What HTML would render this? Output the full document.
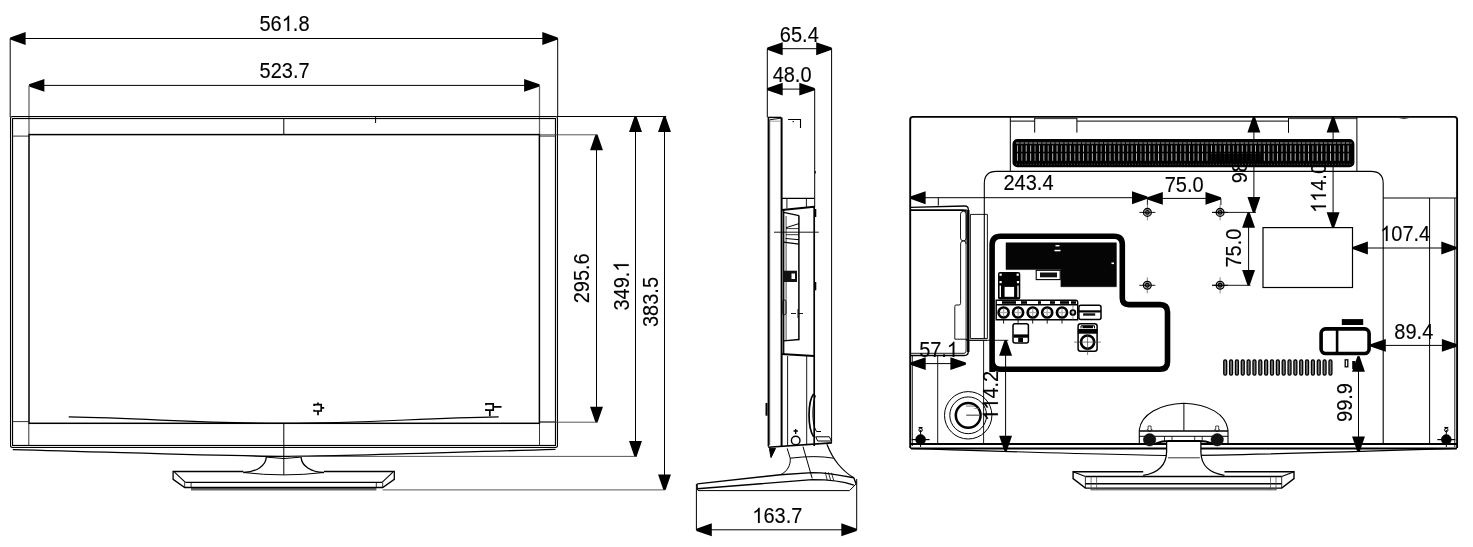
<!DOCTYPE html>
<html><head><meta charset="utf-8"><style>
html,body{margin:0;padding:0;background:#fff;}
svg{display:block;}
text{font-family:"Liberation Sans",sans-serif;fill:#000;stroke:#000;stroke-width:0.12px;}
</style></head><body>
<svg width="1473" height="547" viewBox="0 0 1473 547" style="will-change:transform">
<rect width="1473" height="547" fill="#fff"/>
<line x1="10.2" y1="38.5" x2="557.7" y2="38.5" stroke="#000" stroke-width="1.0" />
<polygon points="10.2,37.4 25.6,32.05 25.6,44.95 10.2,39.6" fill="#000"/>
<polygon points="557.7,37.4 542.3,32.05 542.3,44.95 557.7,39.6" fill="#000"/>
<g transform="translate(284.5 30.9) scale(1 1.06)"><text x="-25.02" y="0" font-size="20">5</text><text x="-13.9" y="0" font-size="20">6</text><path transform="translate(-2.78 0) scale(0.009766 -0.009766)" d="M763 0L583 0L583 1147Q518 1085 412 1023Q306 961 222 930L222 1104Q373 1175 486 1276Q599 1377 646 1472L763 1472Z" fill="#000" stroke="#000" stroke-width="12.3"/><text x="8.34" y="0" font-size="20">.</text><text x="13.9" y="0" font-size="20">8</text></g>
<line x1="29" y1="85.4" x2="539.5" y2="85.4" stroke="#000" stroke-width="1.0" />
<polygon points="29,84.3 44.4,78.95 44.4,91.85 29,86.5" fill="#000"/>
<polygon points="539.5,84.3 524.1,78.95 524.1,91.85 539.5,86.5" fill="#000"/>
<g transform="translate(284.6 78.3) scale(1 1.06)"><text x="-25.02" y="0" font-size="20">5</text><text x="-13.9" y="0" font-size="20">2</text><text x="-2.78" y="0" font-size="20">3</text><text x="8.34" y="0" font-size="20">.</text><text x="13.9" y="0" font-size="20">7</text></g>
<line x1="10.2" y1="38.5" x2="10.2" y2="117" stroke="#000" stroke-width="1.0" />
<line x1="557.7" y1="38.5" x2="557.7" y2="117" stroke="#000" stroke-width="1.0" />
<line x1="29" y1="85.4" x2="29" y2="134.4" stroke="#666" stroke-width="1.3" />
<line x1="539.5" y1="85.4" x2="539.5" y2="134.4" stroke="#666" stroke-width="1.3" />
<rect x="10.5" y="116.5" width="547" height="331" rx="2" stroke="#000" stroke-width="1.05" fill="none" />
<rect x="12.5" y="118.5" width="543" height="327" rx="0" stroke="#000" stroke-width="1.2" fill="none" />
<rect x="29" y="134.6" width="510.4" height="288.7" rx="0" stroke="#000" stroke-width="1.5" fill="none" />
<line x1="12.8" y1="136.1" x2="29" y2="136.1" stroke="#000" stroke-width="0.8" />
<line x1="12.6" y1="421.6" x2="28.8" y2="421.6" stroke="#000" stroke-width="0.8" />
<line x1="539.4" y1="136.1" x2="555.2" y2="136.1" stroke="#000" stroke-width="0.8" />
<line x1="539.4" y1="421.9" x2="555.2" y2="421.9" stroke="#000" stroke-width="0.8" />
<line x1="28.8" y1="423.3" x2="28.8" y2="446" stroke="#000" stroke-width="0.8" />
<line x1="539.5" y1="423.3" x2="539.5" y2="446" stroke="#000" stroke-width="0.8" />
<line x1="283.8" y1="118.8" x2="283.8" y2="134.4" stroke="#000" stroke-width="1.0" />
<line x1="283.8" y1="423.3" x2="283.8" y2="446" stroke="#000" stroke-width="1.0" />
<line x1="375.6" y1="117" x2="375.6" y2="123" stroke="#000" stroke-width="1.0" />
<path d="M12.8 449.6 C150 453.3 230 456.3 283.7 456.3 C337 456.3 417 453.3 555.5 449.4" stroke="#000" stroke-width="1.3" fill="none" />
<path d="M68.7 416.9 C150 418.5 200 423.2 283 423.3 C370 423.2 420 418 498.7 416.9" stroke="#000" stroke-width="1.2" fill="none" />
<path d="M314.1 405.9 L314.1 404.6 L321.2 404.6 L321.2 411 L314.1 411 L314.1 409.8 M321.2 407.8 L324.2 407.8 M318 402.5 L318 404.6 M318 411 L318 415.3" stroke="#000" stroke-width="1.7" fill="none" />
<path d="M486 405.2 L486 403.9 L493.2 403.9 L493.2 410.2 L486 410.2 L486 409 M493.2 406.9 L501.5 406.9 M489.8 410.2 L489.8 416.3" stroke="#000" stroke-width="1.7" fill="none" />
<path d="M266.3 457.1 C266 466 256 472 243.4 472.5" stroke="#000" stroke-width="1.3" fill="none" />
<path d="M301.1 457.1 C301.5 466 311 472 324 472.5" stroke="#000" stroke-width="1.3" fill="none" />
<path d="M266.3 457.1 Q283.7 460 301.1 457.1" stroke="#000" stroke-width="1.0" fill="none" />
<path d="M243.4 472.5 Q283.7 477.3 324 472.5" stroke="#000" stroke-width="1.0" fill="none" />
<line x1="283.8" y1="446" x2="283.8" y2="475" stroke="#000" stroke-width="1.0" />
<rect x="191" y="487.6" width="185.4" height="2.9" rx="0" stroke="#000" stroke-width="0" fill="#666" />
<path d="M243.4 471.5 L173.1 471.5 L173.1 479.3 L184.7 487.5 L382.7 487.5 L394.3 479.3 L394.3 471.5 L324 471.5" stroke="#000" stroke-width="1.3" fill="none" />
<line x1="174.5" y1="472.2" x2="185.4" y2="482.4" stroke="#000" stroke-width="1.1" />
<line x1="392.9" y1="472.2" x2="382" y2="482.4" stroke="#000" stroke-width="1.1" />
<line x1="185.4" y1="482.4" x2="382" y2="482.4" stroke="#000" stroke-width="1.4" />
<line x1="184.7" y1="482.4" x2="184.7" y2="487.5" stroke="#000" stroke-width="0.8" />
<line x1="191.1" y1="482.4" x2="191.1" y2="487.5" stroke="#000" stroke-width="0.8" />
<line x1="376.3" y1="482.4" x2="376.3" y2="487.5" stroke="#000" stroke-width="0.8" />
<line x1="382.7" y1="482.4" x2="382.7" y2="487.5" stroke="#000" stroke-width="0.8" />
<line x1="596.5" y1="134.8" x2="596.5" y2="422.2" stroke="#000" stroke-width="1.0" />
<polygon points="595.4,134.8 590.05,150.2 602.95,150.2 597.6,134.8" fill="#000"/>
<polygon points="595.4,422.2 590.05,406.8 602.95,406.8 597.6,422.2" fill="#000"/>
<g transform="translate(588.7 278.3) rotate(-90) scale(1 1.06)"><text x="-25.02" y="0" font-size="20">2</text><text x="-13.9" y="0" font-size="20">9</text><text x="-2.78" y="0" font-size="20">5</text><text x="8.34" y="0" font-size="20">.</text><text x="13.9" y="0" font-size="20">6</text></g>
<line x1="635.5" y1="116.5" x2="635.5" y2="456.4" stroke="#000" stroke-width="1.0" />
<polygon points="634.4,116.5 629.05,131.9 641.95,131.9 636.6,116.5" fill="#000"/>
<polygon points="634.4,456.4 629.05,441 641.95,441 636.6,456.4" fill="#000"/>
<g transform="translate(628.7 285.6) rotate(-90) scale(1 1.06)"><text x="-25.02" y="0" font-size="20">3</text><text x="-13.9" y="0" font-size="20">4</text><text x="-2.78" y="0" font-size="20">9</text><text x="8.34" y="0" font-size="20">.</text><path transform="translate(13.9 0) scale(0.009766 -0.009766)" d="M763 0L583 0L583 1147Q518 1085 412 1023Q306 961 222 930L222 1104Q373 1175 486 1276Q599 1377 646 1472L763 1472Z" fill="#000" stroke="#000" stroke-width="12.3"/></g>
<line x1="664.5" y1="116.5" x2="664.5" y2="489.9" stroke="#000" stroke-width="1.0" />
<polygon points="663.4,116.5 658.05,131.9 670.95,131.9 665.6,116.5" fill="#000"/>
<polygon points="663.4,489.9 658.05,474.5 670.95,474.5 665.6,489.9" fill="#000"/>
<g transform="translate(657.7 302) rotate(-90) scale(1 1.06)"><text x="-25.02" y="0" font-size="20">3</text><text x="-13.9" y="0" font-size="20">8</text><text x="-2.78" y="0" font-size="20">3</text><text x="8.34" y="0" font-size="20">.</text><text x="13.9" y="0" font-size="20">5</text></g>
<line x1="557" y1="116.5" x2="666.2" y2="116.5" stroke="#000" stroke-width="1.0" />
<line x1="539.5" y1="134.8" x2="597.5" y2="134.8" stroke="#444" stroke-width="0.9" />
<line x1="539.5" y1="422.2" x2="597.5" y2="422.2" stroke="#444" stroke-width="0.9" />
<line x1="290" y1="456.4" x2="637" y2="456.4" stroke="#444" stroke-width="0.9" />
<line x1="382.7" y1="489.9" x2="665.2" y2="489.9" stroke="#444" stroke-width="0.9" />
<line x1="767.3" y1="48.7" x2="831.6" y2="48.7" stroke="#000" stroke-width="1.0" />
<polygon points="767.3,47.6 782.7,42.25 782.7,55.15 767.3,49.8" fill="#000"/>
<polygon points="831.6,47.6 816.2,42.25 816.2,55.15 831.6,49.8" fill="#000"/>
<g transform="translate(799.3 41.8) scale(1 1.06)"><text x="-19.46" y="0" font-size="20">6</text><text x="-8.34" y="0" font-size="20">5</text><text x="2.78" y="0" font-size="20">.</text><text x="8.34" y="0" font-size="20">4</text></g>
<line x1="767.3" y1="89.1" x2="814.7" y2="89.1" stroke="#000" stroke-width="1.0" />
<polygon points="767.3,88 782.7,82.65 782.7,95.55 767.3,90.2" fill="#000"/>
<polygon points="814.7,88 799.3,82.65 799.3,95.55 814.7,90.2" fill="#000"/>
<g transform="translate(792.1 82) scale(1 1.06)"><text x="-19.46" y="0" font-size="20">4</text><text x="-8.34" y="0" font-size="20">8</text><text x="2.78" y="0" font-size="20">.</text><text x="8.34" y="0" font-size="20">0</text></g>
<line x1="767.3" y1="48.7" x2="767.3" y2="117.4" stroke="#000" stroke-width="1.0" />
<line x1="831.6" y1="48.7" x2="831.6" y2="443" stroke="#000" stroke-width="1.0" />
<line x1="814.7" y1="89.1" x2="814.7" y2="207" stroke="#000" stroke-width="1.0" />
<line x1="768.4" y1="117.4" x2="768.4" y2="446.5" stroke="#000" stroke-width="1.6" />
<line x1="769.7" y1="119.5" x2="769.7" y2="445" stroke="#000" stroke-width="0.7" />
<line x1="781.6" y1="117.4" x2="781.6" y2="446" stroke="#000" stroke-width="2.0" />
<path d="M767.8 117.4 L781.3 117.4" stroke="#000" stroke-width="1.4" fill="none" />
<path d="M769.7 119.8 L781 118.2" stroke="#000" stroke-width="0.9" fill="none" />
<path d="M788.1 119.5 L800.5 119.5 L800.5 128.1" stroke="#000" stroke-width="1.1" fill="none" />
<line x1="769.5" y1="121.2" x2="781" y2="121.2" stroke="#888" stroke-width="0.8" />
<rect x="792.6" y="121" width="1.2" height="1.2" rx="0" stroke="#000" stroke-width="0" fill="#000" />
<line x1="815.3" y1="171" x2="815.3" y2="173.5" stroke="#000" stroke-width="1.0" />
<path d="M781.3 198.4 L814.2 198.4" stroke="#000" stroke-width="1.2" fill="none" />
<line x1="786.9" y1="198.4" x2="786.9" y2="208.5" stroke="#000" stroke-width="0.9" />
<line x1="806.4" y1="198.4" x2="806.4" y2="207.5" stroke="#000" stroke-width="0.9" />
<path d="M782 210 L814.2 206.7" stroke="#000" stroke-width="2.0" fill="none" />
<line x1="814.2" y1="206.5" x2="814.2" y2="446" stroke="#000" stroke-width="1.7" />
<line x1="783.7" y1="210" x2="783.7" y2="354" stroke="#000" stroke-width="1.3" />
<line x1="786.1" y1="216" x2="786.1" y2="340" stroke="#000" stroke-width="0.7" />
<line x1="798.9" y1="215.6" x2="798.9" y2="340.3" stroke="#000" stroke-width="1.5" />
<path d="M783.6 212.3 L799 215.6" stroke="#000" stroke-width="1.2" fill="none" />
<path d="M786 227.7 L799 223.6" stroke="#000" stroke-width="1.0" fill="none" />
<line x1="786" y1="228.6" x2="799" y2="228.6" stroke="#000" stroke-width="0.8" />
<line x1="786" y1="234.7" x2="799" y2="234.7" stroke="#000" stroke-width="0.8" />
<path d="M799 239.7 L785.5 238.5" stroke="#000" stroke-width="1.0" fill="none" />
<path d="M783.6 242.2 L799 244.2" stroke="#000" stroke-width="1.2" fill="none" />
<line x1="774" y1="232.2" x2="818.8" y2="232.2" stroke="#000" stroke-width="0.9" />
<rect x="783.5" y="270.7" width="13.5" height="11.3" rx="0" stroke="#000" stroke-width="0" fill="#111" />
<rect x="791.5" y="273.5" width="3.5" height="5.5" rx="0" stroke="#000" stroke-width="0" fill="#fff" />
<rect x="782.9" y="300" width="3.1" height="14.7" rx="1.5" stroke="#000" stroke-width="0.9" fill="none" />
<line x1="791" y1="313.5" x2="804.8" y2="313.5" stroke="#000" stroke-width="0.9" stroke-dasharray="5 2"/>
<line x1="797.9" y1="309" x2="797.9" y2="318" stroke="#000" stroke-width="0.8" />
<path d="M783.6 340.8 L799 339.5" stroke="#000" stroke-width="1.3" fill="none" />
<path d="M781 354 L814.2 356" stroke="#000" stroke-width="2.0" fill="none" />
<line x1="787.6" y1="356" x2="787.6" y2="446" stroke="#000" stroke-width="0.9" />
<line x1="806.7" y1="356" x2="806.7" y2="444" stroke="#000" stroke-width="0.9" />
<line x1="815.5" y1="209" x2="815.5" y2="217" stroke="#000" stroke-width="1.6" />
<line x1="815.5" y1="282" x2="815.5" y2="290.3" stroke="#000" stroke-width="1.6" />
<line x1="766.5" y1="403" x2="766.5" y2="415.7" stroke="#000" stroke-width="2.0" />
<path d="M813.7 393.7 C807.5 402 807.5 428 813.7 436.8" stroke="#000" stroke-width="1.7" fill="none" />
<path d="M815.5 395.5 C811.8 405 811.8 425 816.5 431.5 L821 431.5" stroke="#000" stroke-width="1.0" fill="none" />
<path d="M815.8 436.8 L829.4 436.8 L831.5 441 L817.6 441 Z" stroke="#000" stroke-width="1.0" fill="none" />
<path d="M825.2 472 L827.2 480 M828.4 472.3 L830.6 480.4 M831.5 472.8 L833.8 480.8" stroke="#000" stroke-width="0.8" fill="none" />
<circle cx="795.7" cy="440.5" r="4.3" stroke="#000" stroke-width="1.4" fill="none"/>
<path d="M795.7 429 L795.7 434 M793.5 431 L797.9 431" stroke="#000" stroke-width="1.3" fill="none" />
<path d="M768.2 447.2 L831.8 442.9" stroke="#000" stroke-width="1.6" fill="none" />
<path d="M769.4 448.4 L775.5 448.4 L771 457.6 Z" stroke="#000" stroke-width="1.0" fill="#000" />
<path d="M787.2 448.4 L790.2 458.2 C791 465 787 472 780.4 474.7" stroke="#000" stroke-width="1.0" fill="none" />
<path d="M803 446.6 L812.2 478.4" stroke="#000" stroke-width="1.0" fill="none" />
<path d="M826.9 444.2 C830 452 834 459 838 464 C843 470 849 475 853.8 477.8" stroke="#000" stroke-width="1.2" fill="none" />
<path d="M790.2 458.2 Q815.9 455 833.6 458.2" stroke="#000" stroke-width="1.0" fill="none" />
<path d="M697.3 483.9 L780.4 474.7 L812.2 472.6 C825 472.6 840 475 853.8 477.8 L856.2 483.9" stroke="#000" stroke-width="1.4" fill="none" />
<path d="M697.3 488.8 L812.2 479.6 C830 479.6 845 482 853.8 485.1" stroke="#000" stroke-width="1.4" fill="none" />
<path d="M697.3 483.9 L697.3 488.8 L698 490.6 L849.5 490.6 L856.2 483.9" stroke="#000" stroke-width="1.0" fill="none" />
<line x1="696.4" y1="529.8" x2="856.7" y2="529.8" stroke="#000" stroke-width="1.0" />
<polygon points="696.4,528.7 711.8,523.35 711.8,536.25 696.4,530.9" fill="#000"/>
<polygon points="856.7,528.7 841.3,523.35 841.3,536.25 856.7,530.9" fill="#000"/>
<g transform="translate(777.3 522.9) scale(1 1.06)"><path transform="translate(-25.02 0) scale(0.009766 -0.009766)" d="M763 0L583 0L583 1147Q518 1085 412 1023Q306 961 222 930L222 1104Q373 1175 486 1276Q599 1377 646 1472L763 1472Z" fill="#000" stroke="#000" stroke-width="12.3"/><text x="-13.9" y="0" font-size="20">6</text><text x="-2.78" y="0" font-size="20">3</text><text x="8.34" y="0" font-size="20">.</text><text x="13.9" y="0" font-size="20">7</text></g>
<line x1="696.4" y1="483.9" x2="696.4" y2="529.8" stroke="#000" stroke-width="1.0" />
<line x1="856.7" y1="479" x2="856.7" y2="529.8" stroke="#000" stroke-width="1.0" />
<path d="M910.2 448 L910.2 119.6 Q910.2 116.9 912.9 116.9 L1454.4 116.9 Q1457.1 116.9 1457.1 119.6 L1457.1 448" stroke="#000" stroke-width="1.9" fill="none" />
<path d="M1399 117.6 Q1404 119.8 1409 117.6" stroke="#444" stroke-width="1.0" fill="none" />
<line x1="1454.8" y1="198" x2="1454.8" y2="447" stroke="#000" stroke-width="0.9" />
<line x1="912.3" y1="356" x2="912.3" y2="446" stroke="#000" stroke-width="0.9" />
<path d="M1010.3 117 L1010.3 171.3" stroke="#000" stroke-width="1.0" fill="none" />
<path d="M1356.9 117 L1356.9 171.3" stroke="#000" stroke-width="1.0" fill="none" />
<path d="M1010.3 121.1 L1034.7 121.1 M1076.9 121.1 L1288.5 121.1" stroke="#000" stroke-width="1.0" fill="none" />
<path d="M1034.7 118.6 L1076.9 118.6 M1288.5 118.6 L1356.9 118.6" stroke="#000" stroke-width="0.8" fill="none" />
<line x1="1034.7" y1="118" x2="1034.7" y2="132.6" stroke="#000" stroke-width="1.0" />
<line x1="1076.9" y1="118" x2="1076.9" y2="132.6" stroke="#000" stroke-width="1.0" />
<line x1="1288.5" y1="118" x2="1288.5" y2="132.8" stroke="#000" stroke-width="1.0" />
<path d="M984.3 338.5 L984.3 183.5 Q984.3 171.4 996.4 171.4 L1371 171.4 Q1383.2 171.4 1383.2 183.5 L1383.2 444" stroke="#000" stroke-width="1.1" fill="none" />
<line x1="1383.2" y1="198" x2="1457" y2="198" stroke="#000" stroke-width="1.0" />
<line x1="1429.6" y1="198" x2="1429.6" y2="444" stroke="#000" stroke-width="1.0" />
<path d="M910.2 207.4 L964.5 206 Q968.3 205.9 968.3 209.5 L968.3 351.5 Q968.3 355.5 964.3 355.5 L910.2 355.5" stroke="#000" stroke-width="1.3" fill="none" />
<path d="M910.2 210.2 L963.5 210.2 Q965.5 210.2 966.2 211.5" stroke="#000" stroke-width="1.8" fill="none" />
<path d="M966.1 209 L966.1 351 Q966.1 353.3 964 353.3 L910.2 353.3" stroke="#000" stroke-width="0.9" fill="none" />
<rect x="960.5" y="211.4" width="5.8" height="29.4" rx="2.8" stroke="#000" stroke-width="0.9" fill="none" />
<path d="M966.1 244 Q966.1 240.9 963.35 240.9 Q960.6 240.9 960.6 244 L960.6 303.6 Q960.6 305 959 305 L956 305 Q954.8 305 954.8 306.5 L954.8 339.2 L966.1 339.2" stroke="#000" stroke-width="0.9" fill="none" />
<line x1="968.3" y1="210" x2="968.3" y2="352" stroke="#000" stroke-width="2.4" />
<path d="M970.4 214.4 L987.4 214.4 L987.4 338.5 L970.4 338.5 Z" stroke="#000" stroke-width="0.9" fill="none" />
<path d="M966.5 339 L966.5 340.3 L987 340.3" stroke="#000" stroke-width="0.9" fill="none" />
<line x1="938.3" y1="197.8" x2="938.3" y2="205.6" stroke="#000" stroke-width="1.0" />
<line x1="937.7" y1="355" x2="937.7" y2="444" stroke="#000" stroke-width="0.9" />
<line x1="983.6" y1="340.3" x2="983.6" y2="444" stroke="#000" stroke-width="0.9" />
<path d="M992.1 372 L992.1 245 Q992.1 236.3 1000.8 236.3 L1114 236.3 Q1122.3 236.3 1122.3 244.6 L1122.3 298 Q1122.3 304.6 1128.9 304.6 L1160 304.6 Q1167.5 304.6 1167.5 312 L1167.5 362 Q1167.5 369.2 1160 369.2 L1000 369.2 Q992.1 369.2 992.1 361" stroke="#000" stroke-width="5.6" fill="none" />
<path d="M1006 242.8 L1116.4 242.8 L1116.4 286.7 L1060.9 286.7 L1060.9 269.6 L1006 269.6 Z" stroke="#000" stroke-width="0.5" fill="#050505" />
<rect x="1036.2" y="270.3" width="24" height="9.3" rx="0" stroke="#000" stroke-width="1.1" fill="none" />
<rect x="1040" y="272.5" width="17" height="4.8" rx="0" stroke="#000" stroke-width="0" fill="#111" />
<rect x="1055.5" y="245" width="4" height="1.4" rx="0" stroke="#000" stroke-width="0" fill="#fff" />
<rect x="1054.5" y="249.8" width="6" height="1.5" rx="0" stroke="#000" stroke-width="0" fill="#fff" />
<rect x="1111.5" y="262.5" width="2.5" height="1.6" rx="0" stroke="#000" stroke-width="0" fill="#fff" />
<rect x="998" y="271.9" width="22.3" height="27.5" rx="2" stroke="#000" stroke-width="0" fill="#000" />
<rect x="1004.6" y="286.9" width="9.5" height="9.9" rx="0" stroke="#000" stroke-width="0" fill="#fff" />
<rect x="999.6" y="285.6" width="1.4" height="11.5" rx="0" stroke="#000" stroke-width="0" fill="#fff" />
<rect x="1017.3" y="285.6" width="1.4" height="11.5" rx="0" stroke="#000" stroke-width="0" fill="#fff" />
<rect x="999.5" y="273.6" width="2.2" height="2.2" rx="0" stroke="#000" stroke-width="0" fill="#fff" />
<rect x="1016.6" y="273.6" width="2.2" height="2.2" rx="0" stroke="#000" stroke-width="0" fill="#fff" />
<rect x="999.5" y="281" width="2.2" height="2.2" rx="0" stroke="#000" stroke-width="0" fill="#fff" />
<rect x="1016.9" y="281" width="2.2" height="2.2" rx="0" stroke="#000" stroke-width="0" fill="#fff" />
<path d="M996.2 319.8 L996.2 300.3 L1075.7 300.3 Q1077.7 300.3 1077.7 302.3 L1077.7 319.8 Z" stroke="#000" stroke-width="1.4" fill="none" />
<line x1="996.2" y1="304.7" x2="1077.7" y2="304.7" stroke="#000" stroke-width="1.4" />
<rect x="1002" y="301.2" width="14" height="2.6" rx="0" stroke="#000" stroke-width="0" fill="#000" />
<rect x="1021" y="301.2" width="6" height="2.6" rx="0" stroke="#000" stroke-width="0" fill="#000" />
<rect x="1038" y="301.2" width="3" height="2.6" rx="0" stroke="#000" stroke-width="0" fill="#000" />
<rect x="1050" y="301.2" width="5" height="2.6" rx="0" stroke="#000" stroke-width="0" fill="#000" />
<rect x="1060" y="301.2" width="9" height="2.6" rx="0" stroke="#000" stroke-width="0" fill="#000" />
<rect x="1071" y="301.2" width="5" height="2.6" rx="0" stroke="#000" stroke-width="0" fill="#000" />
<circle cx="1003.6" cy="312.5" r="5" stroke="#000" stroke-width="2.7" fill="none"/>
<rect x="1003" y="308.6" width="1.2" height="7.8" rx="0" stroke="#000" stroke-width="0" fill="#aaa" />
<rect x="999.7" y="311.9" width="7.8" height="1.2" rx="0" stroke="#000" stroke-width="0" fill="#aaa" />
<line x1="1003.6" y1="319.8" x2="1003.6" y2="323.6" stroke="#000" stroke-width="0.9" />
<circle cx="1018.1" cy="312.5" r="5" stroke="#000" stroke-width="2.7" fill="none"/>
<rect x="1017.5" y="308.6" width="1.2" height="7.8" rx="0" stroke="#000" stroke-width="0" fill="#aaa" />
<rect x="1014.2" y="311.9" width="7.8" height="1.2" rx="0" stroke="#000" stroke-width="0" fill="#aaa" />
<line x1="1018.1" y1="319.8" x2="1018.1" y2="323.6" stroke="#000" stroke-width="0.9" />
<circle cx="1032.7" cy="312.5" r="5" stroke="#000" stroke-width="2.7" fill="none"/>
<rect x="1032.1" y="308.6" width="1.2" height="7.8" rx="0" stroke="#000" stroke-width="0" fill="#aaa" />
<rect x="1028.8" y="311.9" width="7.8" height="1.2" rx="0" stroke="#000" stroke-width="0" fill="#aaa" />
<line x1="1032.7" y1="319.8" x2="1032.7" y2="323.6" stroke="#000" stroke-width="0.9" />
<circle cx="1047.2" cy="312.5" r="5" stroke="#000" stroke-width="2.7" fill="none"/>
<rect x="1046.6" y="308.6" width="1.2" height="7.8" rx="0" stroke="#000" stroke-width="0" fill="#aaa" />
<rect x="1043.3" y="311.9" width="7.8" height="1.2" rx="0" stroke="#000" stroke-width="0" fill="#aaa" />
<line x1="1047.2" y1="319.8" x2="1047.2" y2="323.6" stroke="#000" stroke-width="0.9" />
<circle cx="1062" cy="312.5" r="5" stroke="#000" stroke-width="2.7" fill="none"/>
<rect x="1061.4" y="308.6" width="1.2" height="7.8" rx="0" stroke="#000" stroke-width="0" fill="#aaa" />
<rect x="1058.1" y="311.9" width="7.8" height="1.2" rx="0" stroke="#000" stroke-width="0" fill="#aaa" />
<line x1="1062" y1="319.8" x2="1062" y2="323.6" stroke="#000" stroke-width="0.9" />
<circle cx="1072.9" cy="312.5" r="2.4" stroke="#000" stroke-width="1.9" fill="none"/>
<line x1="1072.9" y1="305" x2="1072.9" y2="319.8" stroke="#555" stroke-width="0.6" />
<rect x="1078.9" y="305.2" width="22.1" height="14.4" rx="2" stroke="#000" stroke-width="1.5" fill="none" />
<rect x="1078.6" y="310.3" width="22.5" height="2.2" rx="0" stroke="#000" stroke-width="0" fill="#000" />
<rect x="1083.1" y="313.3" width="12.1" height="2.4" rx="0" stroke="#000" stroke-width="0" fill="#111" />
<rect x="1013" y="323.8" width="15.4" height="19.1" rx="2" stroke="#000" stroke-width="1.5" fill="none" />
<rect x="1013.5" y="334.4" width="14.6" height="3.3" rx="0" stroke="#000" stroke-width="0" fill="#000" />
<rect x="1018.2" y="337.5" width="4.8" height="4.6" rx="0" stroke="#000" stroke-width="0" fill="#000" />
<rect x="1078.1" y="323.8" width="19" height="27.5" rx="2.5" stroke="#000" stroke-width="1.5" fill="none" />
<path d="M1081 328.4 L1081 325.8 L1094.5 325.8 L1094.5 328.4" stroke="#000" stroke-width="1.0" fill="none" />
<rect x="1082.5" y="325.6" width="10.5" height="2.6" rx="0" stroke="#000" stroke-width="0" fill="#000" />
<rect x="1077.8" y="329" width="19.6" height="4.7" rx="0" stroke="#000" stroke-width="0" fill="#000" />
<circle cx="1087.6" cy="342.1" r="6.6" stroke="#000" stroke-width="2.6" fill="none"/>
<line x1="1074.1" y1="342.1" x2="1100.8" y2="342.1" stroke="#444" stroke-width="0.7" />
<line x1="1087.6" y1="335" x2="1087.6" y2="354.9" stroke="#444" stroke-width="0.7" />
<line x1="970" y1="340.3" x2="1008.3" y2="340.3" stroke="#000" stroke-width="0.9" />
<line x1="1005.6" y1="340.3" x2="1005.6" y2="451.2" stroke="#000" stroke-width="1.0" />
<polygon points="1004.5,340.3 999.15,355.7 1012.05,355.7 1006.7,340.3" fill="#000"/>
<polygon points="1004.5,451.2 999.15,435.8 1012.05,435.8 1006.7,451.2" fill="#000"/>
<g transform="translate(997.9 395.8) rotate(-90) scale(1 1.06)"><path transform="translate(-25.02 0) scale(0.009766 -0.009766)" d="M763 0L583 0L583 1147Q518 1085 412 1023Q306 961 222 930L222 1104Q373 1175 486 1276Q599 1377 646 1472L763 1472Z" fill="#000" stroke="#000" stroke-width="12.3"/><path transform="translate(-13.9 0) scale(0.009766 -0.009766)" d="M763 0L583 0L583 1147Q518 1085 412 1023Q306 961 222 930L222 1104Q373 1175 486 1276Q599 1377 646 1472L763 1472Z" fill="#000" stroke="#000" stroke-width="12.3"/><text x="-2.78" y="0" font-size="20">4</text><text x="8.34" y="0" font-size="20">.</text><text x="13.9" y="0" font-size="20">2</text></g>
<line x1="910.3" y1="363.6" x2="965.8" y2="363.6" stroke="#000" stroke-width="1.0" />
<polygon points="910.3,362.5 925.7,357.15 925.7,370.05 910.3,364.7" fill="#000"/>
<polygon points="965.8,362.5 950.4,357.15 950.4,370.05 965.8,364.7" fill="#000"/>
<g transform="translate(938.6 356.9) scale(1 1.06)"><text x="-19.46" y="0" font-size="20">5</text><text x="-8.34" y="0" font-size="20">7</text><text x="2.78" y="0" font-size="20">.</text><path transform="translate(8.34 0) scale(0.009766 -0.009766)" d="M763 0L583 0L583 1147Q518 1085 412 1023Q306 961 222 930L222 1104Q373 1175 486 1276Q599 1377 646 1472L763 1472Z" fill="#000" stroke="#000" stroke-width="12.3"/></g>
<circle cx="968.2" cy="415.3" r="23.7" stroke="#000" stroke-width="1.0" fill="none"/>
<circle cx="968.2" cy="415.3" r="18.4" stroke="#000" stroke-width="1.0" fill="none"/>
<circle cx="968.2" cy="415.3" r="12.4" stroke="#000" stroke-width="2.5" fill="none"/>
<rect x="966.2" y="414.5" width="13.1" height="1.5" rx="0" stroke="#000" stroke-width="0" fill="#777" />
<line x1="966" y1="406.1" x2="975" y2="406.1" stroke="#555" stroke-width="0.8" />
<line x1="974" y1="408.5" x2="979" y2="408.5" stroke="#777" stroke-width="0.7" />
<line x1="910.2" y1="197.7" x2="1147.4" y2="197.7" stroke="#000" stroke-width="1.0" />
<polygon points="910.2,196.6 925.6,191.25 925.6,204.15 910.2,198.8" fill="#000"/>
<polygon points="1147.4,196.6 1132,191.25 1132,204.15 1147.4,198.8" fill="#000"/>
<g transform="translate(1028.5 190.1) scale(1 1.06)"><text x="-25.02" y="0" font-size="20">2</text><text x="-13.9" y="0" font-size="20">4</text><text x="-2.78" y="0" font-size="20">3</text><text x="8.34" y="0" font-size="20">.</text><text x="13.9" y="0" font-size="20">4</text></g>
<line x1="1147.4" y1="197.7" x2="1147.4" y2="205" stroke="#000" stroke-width="0.9" />
<line x1="1147.4" y1="198.4" x2="1220.9" y2="198.4" stroke="#000" stroke-width="1.0" />
<polygon points="1147.4,197.3 1162.8,191.95 1162.8,204.85 1147.4,199.5" fill="#000"/>
<polygon points="1220.9,197.3 1205.5,191.95 1205.5,204.85 1220.9,199.5" fill="#000"/>
<g transform="translate(1184.2 192.1) scale(1 1.06)"><text x="-19.46" y="0" font-size="20">7</text><text x="-8.34" y="0" font-size="20">5</text><text x="2.78" y="0" font-size="20">.</text><text x="8.34" y="0" font-size="20">0</text></g>
<line x1="1220.9" y1="198.4" x2="1220.9" y2="205" stroke="#000" stroke-width="0.9" />
<line x1="1147.4" y1="204.4" x2="1147.4" y2="220.4" stroke="#777" stroke-width="0.9" />
<circle cx="1147.4" cy="212.4" r="2.9" stroke="#999" stroke-width="0.9" fill="none"/>
<circle cx="1147.4" cy="212.4" r="3.9" stroke="#000" stroke-width="1.3" fill="none"/>
<circle cx="1147.4" cy="212.4" r="1.8" stroke="#000" stroke-width="1.3" fill="none"/>
<line x1="1139.4" y1="212.4" x2="1155.4" y2="212.4" stroke="#000" stroke-width="0.9" />
<line x1="1220.1" y1="204.4" x2="1220.1" y2="220.4" stroke="#777" stroke-width="0.9" />
<circle cx="1220.1" cy="212.4" r="2.9" stroke="#999" stroke-width="0.9" fill="none"/>
<circle cx="1220.1" cy="212.4" r="3.9" stroke="#000" stroke-width="1.3" fill="none"/>
<circle cx="1220.1" cy="212.4" r="1.8" stroke="#000" stroke-width="1.3" fill="none"/>
<line x1="1212.1" y1="212.4" x2="1228.1" y2="212.4" stroke="#000" stroke-width="0.9" />
<line x1="1147.3" y1="277.3" x2="1147.3" y2="293.3" stroke="#777" stroke-width="0.9" />
<circle cx="1147.3" cy="285.3" r="2.9" stroke="#999" stroke-width="0.9" fill="none"/>
<circle cx="1147.3" cy="285.3" r="3.9" stroke="#000" stroke-width="1.3" fill="none"/>
<circle cx="1147.3" cy="285.3" r="1.8" stroke="#000" stroke-width="1.3" fill="none"/>
<line x1="1139.3" y1="285.3" x2="1155.3" y2="285.3" stroke="#000" stroke-width="0.9" />
<line x1="1220.1" y1="277.3" x2="1220.1" y2="293.3" stroke="#777" stroke-width="0.9" />
<circle cx="1220.1" cy="285.3" r="2.9" stroke="#999" stroke-width="0.9" fill="none"/>
<circle cx="1220.1" cy="285.3" r="3.9" stroke="#000" stroke-width="1.3" fill="none"/>
<circle cx="1220.1" cy="285.3" r="1.8" stroke="#000" stroke-width="1.3" fill="none"/>
<line x1="1212.1" y1="285.3" x2="1228.1" y2="285.3" stroke="#000" stroke-width="0.9" />
<line x1="1212" y1="212.4" x2="1256" y2="212.4" stroke="#000" stroke-width="0.9" />
<line x1="1212" y1="285.3" x2="1250.5" y2="285.3" stroke="#000" stroke-width="0.9" />
<line x1="1253.9" y1="117" x2="1253.9" y2="212.4" stroke="#000" stroke-width="1.0" />
<polygon points="1252.8,117 1247.45,132.4 1260.35,132.4 1255,117" fill="#000"/>
<polygon points="1252.8,212.4 1247.45,197 1260.35,197 1255,212.4" fill="#000"/>
<g transform="translate(1247.4 163.9) rotate(-90) scale(1 1.06)"><text x="-19.46" y="0" font-size="20">9</text><text x="-8.34" y="0" font-size="20">8</text><text x="2.78" y="0" font-size="20">.</text><text x="8.34" y="0" font-size="20">0</text></g>
<line x1="1248.6" y1="212.4" x2="1248.6" y2="285.3" stroke="#000" stroke-width="1.0" />
<polygon points="1247.5,212.4 1242.15,227.8 1255.05,227.8 1249.7,212.4" fill="#000"/>
<polygon points="1247.5,285.3 1242.15,269.9 1255.05,269.9 1249.7,285.3" fill="#000"/>
<g transform="translate(1241.4 248.1) rotate(-90) scale(1 1.06)"><text x="-19.46" y="0" font-size="20">7</text><text x="-8.34" y="0" font-size="20">5</text><text x="2.78" y="0" font-size="20">.</text><text x="8.34" y="0" font-size="20">0</text></g>
<line x1="1333.1" y1="117" x2="1333.1" y2="227.6" stroke="#000" stroke-width="1.0" />
<polygon points="1332,117 1326.65,132.4 1339.55,132.4 1334.2,117" fill="#000"/>
<polygon points="1332,227.6 1326.65,212.2 1339.55,212.2 1334.2,227.6" fill="#000"/>
<g transform="translate(1326 188) rotate(-90) scale(1 1.06)"><path transform="translate(-25.02 0) scale(0.009766 -0.009766)" d="M763 0L583 0L583 1147Q518 1085 412 1023Q306 961 222 930L222 1104Q373 1175 486 1276Q599 1377 646 1472L763 1472Z" fill="#000" stroke="#000" stroke-width="12.3"/><path transform="translate(-13.9 0) scale(0.009766 -0.009766)" d="M763 0L583 0L583 1147Q518 1085 412 1023Q306 961 222 930L222 1104Q373 1175 486 1276Q599 1377 646 1472L763 1472Z" fill="#000" stroke="#000" stroke-width="12.3"/><text x="-2.78" y="0" font-size="20">4</text><text x="8.34" y="0" font-size="20">.</text><text x="13.9" y="0" font-size="20">0</text></g>
<rect x="1263" y="227.6" width="89.5" height="59.9" rx="0" stroke="#000" stroke-width="1.2" fill="none" />
<line x1="1352.5" y1="248" x2="1456.7" y2="248" stroke="#000" stroke-width="1.0" />
<polygon points="1352.5,246.9 1367.9,241.55 1367.9,254.45 1352.5,249.1" fill="#000"/>
<polygon points="1456.7,246.9 1441.3,241.55 1441.3,254.45 1456.7,249.1" fill="#000"/>
<g transform="translate(1405.2 240.9) scale(1 1.06)"><path transform="translate(-25.02 0) scale(0.009766 -0.009766)" d="M763 0L583 0L583 1147Q518 1085 412 1023Q306 961 222 930L222 1104Q373 1175 486 1276Q599 1377 646 1472L763 1472Z" fill="#000" stroke="#000" stroke-width="12.3"/><text x="-13.9" y="0" font-size="20">0</text><text x="-2.78" y="0" font-size="20">7</text><text x="8.34" y="0" font-size="20">.</text><text x="13.9" y="0" font-size="20">4</text></g>
<rect x="1321.1" y="328.9" width="48" height="24.6" rx="4.5" stroke="#000" stroke-width="3.6" fill="none" />
<line x1="1337.1" y1="330" x2="1337.1" y2="353" stroke="#000" stroke-width="2.6" />
<rect x="1341.8" y="319.1" width="21.4" height="5.9" rx="0" stroke="#000" stroke-width="0" fill="#000" />
<rect x="1345.2" y="359.8" width="2.6" height="7" rx="0" stroke="#000" stroke-width="1.3" fill="none" />
<rect x="1352.2" y="361" width="3.2" height="8" rx="0" stroke="#000" stroke-width="0" fill="#000" />
<line x1="1370.4" y1="345.4" x2="1457.3" y2="345.4" stroke="#000" stroke-width="1.0" />
<polygon points="1370.4,344.3 1385.8,338.95 1385.8,351.85 1370.4,346.5" fill="#000"/>
<polygon points="1457.3,344.3 1441.9,338.95 1441.9,351.85 1457.3,346.5" fill="#000"/>
<g transform="translate(1413.8 339) scale(1 1.06)"><text x="-19.46" y="0" font-size="20">8</text><text x="-8.34" y="0" font-size="20">9</text><text x="2.78" y="0" font-size="20">.</text><text x="8.34" y="0" font-size="20">4</text></g>
<line x1="1358.5" y1="356.3" x2="1358.5" y2="452" stroke="#000" stroke-width="1.0" />
<polygon points="1357.4,356.3 1352.05,371.7 1364.95,371.7 1359.6,356.3" fill="#000"/>
<polygon points="1357.4,452 1352.05,436.6 1364.95,436.6 1359.6,452" fill="#000"/>
<g transform="translate(1351.8 402.5) rotate(-90) scale(1 1.06)"><text x="-19.46" y="0" font-size="20">9</text><text x="-8.34" y="0" font-size="20">9</text><text x="2.78" y="0" font-size="20">.</text><text x="8.34" y="0" font-size="20">9</text></g>
<rect x="1223.75" y="359.85" width="2.94" height="15.3" rx="1.4" stroke="#000" stroke-width="1.3" fill="#777" />
<rect x="1229.6" y="359.85" width="2.94" height="15.3" rx="1.4" stroke="#000" stroke-width="1.3" fill="#777" />
<rect x="1235.44" y="359.85" width="2.94" height="15.3" rx="1.4" stroke="#000" stroke-width="1.3" fill="#777" />
<rect x="1241.29" y="359.85" width="2.94" height="15.3" rx="1.4" stroke="#000" stroke-width="1.3" fill="#777" />
<rect x="1247.13" y="359.85" width="2.94" height="15.3" rx="1.4" stroke="#000" stroke-width="1.3" fill="#777" />
<rect x="1252.98" y="359.85" width="2.94" height="15.3" rx="1.4" stroke="#000" stroke-width="1.3" fill="#777" />
<rect x="1258.83" y="359.85" width="2.94" height="15.3" rx="1.4" stroke="#000" stroke-width="1.3" fill="#777" />
<rect x="1264.67" y="359.85" width="2.94" height="15.3" rx="1.4" stroke="#000" stroke-width="1.3" fill="#777" />
<rect x="1270.52" y="359.85" width="2.94" height="15.3" rx="1.4" stroke="#000" stroke-width="1.3" fill="#777" />
<rect x="1276.36" y="359.85" width="2.94" height="15.3" rx="1.4" stroke="#000" stroke-width="1.3" fill="#777" />
<rect x="1282.21" y="359.85" width="2.94" height="15.3" rx="1.4" stroke="#000" stroke-width="1.3" fill="#777" />
<rect x="1288.06" y="359.85" width="2.94" height="15.3" rx="1.4" stroke="#000" stroke-width="1.3" fill="#777" />
<rect x="1293.9" y="359.85" width="2.94" height="15.3" rx="1.4" stroke="#000" stroke-width="1.3" fill="#777" />
<rect x="1299.75" y="359.85" width="2.94" height="15.3" rx="1.4" stroke="#000" stroke-width="1.3" fill="#777" />
<rect x="1305.59" y="359.85" width="2.94" height="15.3" rx="1.4" stroke="#000" stroke-width="1.3" fill="#777" />
<rect x="1311.44" y="359.85" width="2.94" height="15.3" rx="1.4" stroke="#000" stroke-width="1.3" fill="#777" />
<rect x="1317.29" y="359.85" width="2.94" height="15.3" rx="1.4" stroke="#000" stroke-width="1.3" fill="#777" />
<rect x="1323.13" y="359.85" width="2.94" height="15.3" rx="1.4" stroke="#000" stroke-width="1.3" fill="#777" />
<rect x="1328.98" y="359.85" width="2.94" height="15.3" rx="1.4" stroke="#000" stroke-width="1.3" fill="#777" />
<path d="M910.2 444 L1457 444" stroke="#000" stroke-width="1.9" fill="none" />
<path d="M911 448.5 L1456.8 448.5" stroke="#000" stroke-width="2.0" fill="none" />
<path d="M910.2 448.5 C1040 452.5 1130 455.5 1183.7 455.5 C1237 455.5 1330 452.5 1456.8 448.5" stroke="#000" stroke-width="1.2" fill="none" />
<circle cx="920.6" cy="439.6" r="5" stroke="#000" stroke-width="0.5" fill="#000"/>
<line x1="911.6" y1="439.6" x2="929.6" y2="439.6" stroke="#000" stroke-width="1.2" />
<line x1="920.6" y1="430" x2="920.6" y2="447" stroke="#000" stroke-width="1.0" />
<line x1="918.6" y1="427.6" x2="922.6" y2="427.6" stroke="#000" stroke-width="1.3" />
<circle cx="920.6" cy="430" r="1.7" stroke="#000" stroke-width="1.0" fill="none"/>
<circle cx="1446.3" cy="439.6" r="5" stroke="#000" stroke-width="0.5" fill="#000"/>
<line x1="1437.3" y1="439.6" x2="1455.3" y2="439.6" stroke="#000" stroke-width="1.2" />
<line x1="1446.3" y1="430" x2="1446.3" y2="447" stroke="#000" stroke-width="1.0" />
<line x1="1444.3" y1="427.6" x2="1448.3" y2="427.6" stroke="#000" stroke-width="1.3" />
<circle cx="1446.3" cy="430" r="1.7" stroke="#000" stroke-width="1.0" fill="none"/>
<path d="M1139.3 443.5 L1139.3 430 C1141 414 1160 404 1183.9 403.2 C1208 404 1226 414 1228 430 L1228 443.5" stroke="#000" stroke-width="1.1" fill="none" />
<line x1="1183.9" y1="403.2" x2="1183.9" y2="430.6" stroke="#000" stroke-width="1.0" />
<line x1="1139.3" y1="430.9" x2="1228" y2="430.9" stroke="#000" stroke-width="1.5" />
<line x1="1139.3" y1="436.3" x2="1228" y2="436.3" stroke="#000" stroke-width="1.0" />
<circle cx="1149.6" cy="439.8" r="6.2" stroke="#000" stroke-width="0.5" fill="#111"/>
<path d="M1148.1 426 L1151.1 426 L1151.1 429.5 L1152.1 429.5 L1149.6 432 L1147.1 429.5 L1148.1 429.5 Z" stroke="#000" stroke-width="0.7" fill="none" />
<circle cx="1217.2" cy="439.8" r="6.2" stroke="#000" stroke-width="0.5" fill="#111"/>
<path d="M1215.7 426 L1218.7 426 L1218.7 429.5 L1219.7 429.5 L1217.2 432 L1214.7 429.5 L1215.7 429.5 Z" stroke="#000" stroke-width="0.7" fill="none" />
<path d="M1166.6 442 L1166.6 452 C1166.2 466 1158 473 1143.2 475.4 L1224.5 475.4 C1209 473 1201.3 466 1200.9 452 L1200.9 442 Z" stroke="#000" stroke-width="0" fill="#fff" />
<path d="M1156 443.3 Q1162 441 1169 441 L1199 441 Q1206 441 1212 443.3" stroke="#000" stroke-width="1.9" fill="none" />
<path d="M1166.6 441.5 L1166.6 452 C1166.2 466 1158 473 1143.2 475.4" stroke="#000" stroke-width="1.3" fill="none" />
<path d="M1200.9 441.5 L1200.9 452 C1201.3 466 1209 473 1224.5 475.4" stroke="#000" stroke-width="1.3" fill="none" />
<line x1="1168" y1="457.8" x2="1199.8" y2="457.8" stroke="#000" stroke-width="0.8" />
<path d="M1143.2 471.8 L1073.1 471.8 L1073.1 478.6 L1085.4 488.1 L1281.7 488.1 L1294 478.6 L1294 471.8 L1224.5 471.8" stroke="#000" stroke-width="1.4" fill="none" />
<line x1="1073.6" y1="472" x2="1085.4" y2="476.6" stroke="#000" stroke-width="1.1" />
<line x1="1293.5" y1="472" x2="1281.7" y2="476.6" stroke="#000" stroke-width="1.1" />
<line x1="1085.4" y1="476.6" x2="1281.7" y2="476.6" stroke="#000" stroke-width="1.5" />
<line x1="1085.4" y1="483.7" x2="1281.7" y2="483.7" stroke="#000" stroke-width="1.5" />
<line x1="1090.5" y1="489.8" x2="1276.6" y2="489.8" stroke="#444" stroke-width="1.0" />
<line x1="1091.1" y1="476.6" x2="1091.1" y2="489.6" stroke="#444" stroke-width="0.7" />
<line x1="1096.6" y1="476.6" x2="1096.6" y2="489.6" stroke="#444" stroke-width="0.7" />
<line x1="1270.5" y1="476.6" x2="1270.5" y2="489.6" stroke="#444" stroke-width="0.7" />
<line x1="1276" y1="476.6" x2="1276" y2="489.6" stroke="#444" stroke-width="0.7" />
<line x1="1085.4" y1="476.6" x2="1085.4" y2="488.1" stroke="#000" stroke-width="0.8" />
<line x1="1281.7" y1="476.6" x2="1281.7" y2="488.1" stroke="#000" stroke-width="0.8" />
<line x1="1164.5" y1="436.3" x2="1164.5" y2="441" stroke="#000" stroke-width="0.8" />
<line x1="1172" y1="436.3" x2="1172" y2="441" stroke="#000" stroke-width="0.8" />
<line x1="1194.7" y1="436.3" x2="1194.7" y2="441" stroke="#000" stroke-width="0.8" />
<line x1="1202.2" y1="436.3" x2="1202.2" y2="441" stroke="#000" stroke-width="0.8" />
<rect x="1013.9" y="140.5" width="339.1" height="25.4" rx="3.5" stroke="#000" stroke-width="2.8" fill="#000" />
<line x1="1016" y1="143" x2="1351.5" y2="143" stroke="#fff" stroke-width="0.8" stroke-dasharray="3.4 1" opacity="0.9"/>
<line x1="1017.4" y1="145.4" x2="1017.4" y2="160.8" stroke="#fff" stroke-width="0.75" opacity="0.95"/>
<line x1="1021.81" y1="145.4" x2="1021.81" y2="160.8" stroke="#777" stroke-width="1.2"/>
<line x1="1026.22" y1="145.4" x2="1026.22" y2="160.8" stroke="#fff" stroke-width="0.75" opacity="0.95"/>
<line x1="1030.63" y1="145.4" x2="1030.63" y2="160.8" stroke="#fff" stroke-width="0.75" opacity="0.95"/>
<line x1="1035.04" y1="145.4" x2="1035.04" y2="160.8" stroke="#777" stroke-width="1.2"/>
<line x1="1039.45" y1="145.4" x2="1039.45" y2="160.8" stroke="#fff" stroke-width="0.75" opacity="0.95"/>
<line x1="1043.86" y1="145.4" x2="1043.86" y2="160.8" stroke="#fff" stroke-width="0.75" opacity="0.95"/>
<line x1="1048.27" y1="145.4" x2="1048.27" y2="160.8" stroke="#777" stroke-width="1.2"/>
<line x1="1052.68" y1="145.4" x2="1052.68" y2="160.8" stroke="#fff" stroke-width="0.75" opacity="0.95"/>
<line x1="1057.09" y1="145.4" x2="1057.09" y2="160.8" stroke="#fff" stroke-width="0.75" opacity="0.95"/>
<line x1="1061.5" y1="145.4" x2="1061.5" y2="160.8" stroke="#777" stroke-width="1.2"/>
<line x1="1065.91" y1="145.4" x2="1065.91" y2="160.8" stroke="#fff" stroke-width="0.75" opacity="0.95"/>
<line x1="1070.32" y1="145.4" x2="1070.32" y2="160.8" stroke="#fff" stroke-width="0.75" opacity="0.95"/>
<line x1="1074.73" y1="145.4" x2="1074.73" y2="160.8" stroke="#777" stroke-width="1.2"/>
<line x1="1079.14" y1="145.4" x2="1079.14" y2="160.8" stroke="#fff" stroke-width="0.75" opacity="0.95"/>
<line x1="1083.55" y1="145.4" x2="1083.55" y2="160.8" stroke="#fff" stroke-width="0.75" opacity="0.95"/>
<line x1="1087.96" y1="145.4" x2="1087.96" y2="160.8" stroke="#777" stroke-width="1.2"/>
<line x1="1092.37" y1="145.4" x2="1092.37" y2="160.8" stroke="#fff" stroke-width="0.75" opacity="0.95"/>
<line x1="1096.78" y1="145.4" x2="1096.78" y2="160.8" stroke="#fff" stroke-width="0.75" opacity="0.95"/>
<line x1="1101.19" y1="145.4" x2="1101.19" y2="160.8" stroke="#777" stroke-width="1.2"/>
<line x1="1105.6" y1="145.4" x2="1105.6" y2="160.8" stroke="#fff" stroke-width="0.75" opacity="0.95"/>
<line x1="1110.01" y1="145.4" x2="1110.01" y2="160.8" stroke="#fff" stroke-width="0.75" opacity="0.95"/>
<line x1="1114.42" y1="145.4" x2="1114.42" y2="160.8" stroke="#777" stroke-width="1.2"/>
<line x1="1118.83" y1="145.4" x2="1118.83" y2="160.8" stroke="#fff" stroke-width="0.75" opacity="0.95"/>
<line x1="1123.24" y1="145.4" x2="1123.24" y2="160.8" stroke="#fff" stroke-width="0.75" opacity="0.95"/>
<line x1="1127.65" y1="145.4" x2="1127.65" y2="160.8" stroke="#777" stroke-width="1.2"/>
<line x1="1132.06" y1="145.4" x2="1132.06" y2="160.8" stroke="#fff" stroke-width="0.75" opacity="0.95"/>
<line x1="1136.47" y1="145.4" x2="1136.47" y2="160.8" stroke="#fff" stroke-width="0.75" opacity="0.95"/>
<line x1="1140.88" y1="145.4" x2="1140.88" y2="160.8" stroke="#777" stroke-width="1.2"/>
<line x1="1145.29" y1="145.4" x2="1145.29" y2="160.8" stroke="#fff" stroke-width="0.75" opacity="0.95"/>
<line x1="1149.7" y1="145.4" x2="1149.7" y2="160.8" stroke="#fff" stroke-width="0.75" opacity="0.95"/>
<line x1="1154.11" y1="145.4" x2="1154.11" y2="160.8" stroke="#777" stroke-width="1.2"/>
<line x1="1158.52" y1="145.4" x2="1158.52" y2="160.8" stroke="#fff" stroke-width="0.75" opacity="0.95"/>
<line x1="1162.93" y1="145.4" x2="1162.93" y2="160.8" stroke="#fff" stroke-width="0.75" opacity="0.95"/>
<line x1="1167.34" y1="145.4" x2="1167.34" y2="160.8" stroke="#777" stroke-width="1.2"/>
<line x1="1171.75" y1="145.4" x2="1171.75" y2="160.8" stroke="#fff" stroke-width="0.75" opacity="0.95"/>
<line x1="1176.16" y1="145.4" x2="1176.16" y2="160.8" stroke="#fff" stroke-width="0.75" opacity="0.95"/>
<line x1="1180.57" y1="145.4" x2="1180.57" y2="160.8" stroke="#777" stroke-width="1.2"/>
<line x1="1184.98" y1="145.4" x2="1184.98" y2="160.8" stroke="#fff" stroke-width="0.75" opacity="0.95"/>
<line x1="1189.39" y1="145.4" x2="1189.39" y2="160.8" stroke="#fff" stroke-width="0.75" opacity="0.95"/>
<line x1="1193.8" y1="145.4" x2="1193.8" y2="160.8" stroke="#777" stroke-width="1.2"/>
<line x1="1198.21" y1="145.4" x2="1198.21" y2="160.8" stroke="#fff" stroke-width="0.75" opacity="0.95"/>
<line x1="1202.62" y1="145.4" x2="1202.62" y2="160.8" stroke="#fff" stroke-width="0.75" opacity="0.95"/>
<line x1="1207.03" y1="145.4" x2="1207.03" y2="160.8" stroke="#777" stroke-width="1.2"/>
<line x1="1211.44" y1="145.4" x2="1211.44" y2="160.8" stroke="#fff" stroke-width="0.75" opacity="0.95"/>
<line x1="1215.85" y1="145.4" x2="1215.85" y2="160.8" stroke="#fff" stroke-width="0.75" opacity="0.95"/>
<line x1="1220.26" y1="145.4" x2="1220.26" y2="160.8" stroke="#777" stroke-width="1.2"/>
<line x1="1224.67" y1="145.4" x2="1224.67" y2="160.8" stroke="#fff" stroke-width="0.75" opacity="0.95"/>
<line x1="1229.08" y1="145.4" x2="1229.08" y2="160.8" stroke="#fff" stroke-width="0.75" opacity="0.95"/>
<line x1="1233.49" y1="145.4" x2="1233.49" y2="160.8" stroke="#777" stroke-width="1.2"/>
<line x1="1237.9" y1="145.4" x2="1237.9" y2="160.8" stroke="#fff" stroke-width="0.75" opacity="0.95"/>
<line x1="1242.31" y1="145.4" x2="1242.31" y2="160.8" stroke="#fff" stroke-width="0.75" opacity="0.95"/>
<line x1="1246.72" y1="145.4" x2="1246.72" y2="160.8" stroke="#777" stroke-width="1.2"/>
<line x1="1251.13" y1="145.4" x2="1251.13" y2="160.8" stroke="#fff" stroke-width="0.75" opacity="0.95"/>
<line x1="1255.54" y1="145.4" x2="1255.54" y2="160.8" stroke="#fff" stroke-width="0.75" opacity="0.95"/>
<line x1="1259.95" y1="145.4" x2="1259.95" y2="160.8" stroke="#777" stroke-width="1.2"/>
<line x1="1264.36" y1="145.4" x2="1264.36" y2="160.8" stroke="#fff" stroke-width="0.75" opacity="0.95"/>
<line x1="1268.77" y1="145.4" x2="1268.77" y2="160.8" stroke="#fff" stroke-width="0.75" opacity="0.95"/>
<line x1="1273.18" y1="145.4" x2="1273.18" y2="160.8" stroke="#777" stroke-width="1.2"/>
<line x1="1277.59" y1="145.4" x2="1277.59" y2="160.8" stroke="#fff" stroke-width="0.75" opacity="0.95"/>
<line x1="1282" y1="145.4" x2="1282" y2="160.8" stroke="#fff" stroke-width="0.75" opacity="0.95"/>
<line x1="1286.41" y1="145.4" x2="1286.41" y2="160.8" stroke="#777" stroke-width="1.2"/>
<line x1="1290.82" y1="145.4" x2="1290.82" y2="160.8" stroke="#fff" stroke-width="0.75" opacity="0.95"/>
<line x1="1295.23" y1="145.4" x2="1295.23" y2="160.8" stroke="#fff" stroke-width="0.75" opacity="0.95"/>
<line x1="1299.64" y1="145.4" x2="1299.64" y2="160.8" stroke="#777" stroke-width="1.2"/>
<line x1="1304.05" y1="145.4" x2="1304.05" y2="160.8" stroke="#fff" stroke-width="0.75" opacity="0.95"/>
<line x1="1308.46" y1="145.4" x2="1308.46" y2="160.8" stroke="#fff" stroke-width="0.75" opacity="0.95"/>
<line x1="1312.87" y1="145.4" x2="1312.87" y2="160.8" stroke="#777" stroke-width="1.2"/>
<line x1="1317.28" y1="145.4" x2="1317.28" y2="160.8" stroke="#fff" stroke-width="0.75" opacity="0.95"/>
<line x1="1321.69" y1="145.4" x2="1321.69" y2="160.8" stroke="#fff" stroke-width="0.75" opacity="0.95"/>
<line x1="1326.1" y1="145.4" x2="1326.1" y2="160.8" stroke="#777" stroke-width="1.2"/>
<line x1="1330.51" y1="145.4" x2="1330.51" y2="160.8" stroke="#fff" stroke-width="0.75" opacity="0.95"/>
<line x1="1334.92" y1="145.4" x2="1334.92" y2="160.8" stroke="#fff" stroke-width="0.75" opacity="0.95"/>
<line x1="1339.33" y1="145.4" x2="1339.33" y2="160.8" stroke="#777" stroke-width="1.2"/>
<line x1="1343.74" y1="145.4" x2="1343.74" y2="160.8" stroke="#fff" stroke-width="0.75" opacity="0.95"/>
<line x1="1348.15" y1="145.4" x2="1348.15" y2="160.8" stroke="#fff" stroke-width="0.75" opacity="0.95"/>
<line x1="1015" y1="152.5" x2="1352" y2="152.5" stroke="#000" stroke-width="1.6"/>
<line x1="1016" y1="164.3" x2="1351.5" y2="164.3" stroke="#888" stroke-width="0.8" stroke-dasharray="0.8 2.1"/>
<rect x="1210" y="153.5" width="52" height="9" rx="0" stroke="#000" stroke-width="0" fill="#000" opacity="0.9"/>
<rect x="1148" y="143" width="10" height="20" rx="0" stroke="#000" stroke-width="0" fill="#000" opacity="0.0"/>
</svg>
</body></html>
